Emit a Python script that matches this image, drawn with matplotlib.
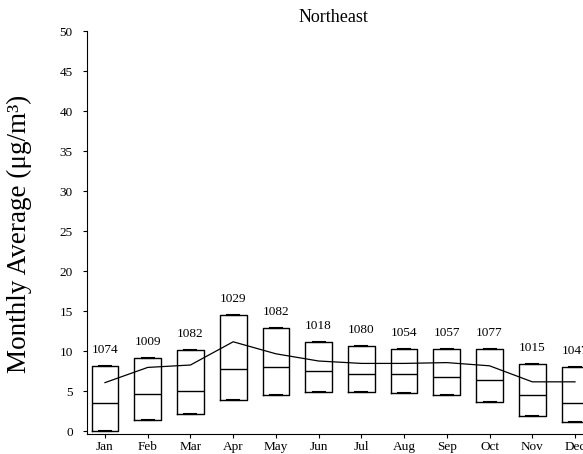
import matplotlib

matplotlib.use("Agg")
import matplotlib.pyplot as plt

plt.rcParams["font.family"] = ["Liberation Serif", "DejaVu Serif"]

# values
months = ["Jan", "Feb", "Mar", "Apr", "May", "Jun", "Jul", "Aug", "Sep", "Oct", "Nov", "Dec"]
q1 = [0.1, 1.45, 2.15, 3.95, 4.55, 4.95, 4.95, 4.85, 4.55, 3.65, 1.95, 1.15]
medians = [3.5, 4.65, 5.0, 7.8, 8.0, 7.55, 7.2, 7.15, 6.85, 6.4, 4.5, 3.5]
q3 = [8.2, 9.2, 10.2, 14.6, 12.9, 11.2, 10.7, 10.35, 10.35, 10.3, 8.4, 8.0]
means = [6.1, 8.0, 8.3, 11.2, 9.7, 8.8, 8.5, 8.5, 8.6, 8.2, 6.2, 6.2]
counts = [1074, 1009, 1082, 1029, 1082, 1018, 1080, 1054, 1057, 1077, 1015, 1047]

positions = list(range(len(months)))

fig = plt.figure(figsize=(5.83, 4.54), dpi=100)
# axes runs past the right edge, like the cropped original
ax = fig.add_axes([0.1487, 0.0434, 0.8816, 0.8883])

stats = [
    {"whislo": lo, "q1": lo, "med": md, "q3": hi, "whishi": hi, "fliers": []}
    for lo, md, hi in zip(q1, medians, q3)
]
ax.bxp(
    stats,
    positions=positions,
    widths=0.625,
    capwidths=0.28,
    showfliers=False,
    boxprops={"color": "black", "linewidth": 1.0},
    medianprops={"color": "black", "linewidth": 1.0},
    whiskerprops={"color": "black", "linewidth": 1.0},
    capprops={"color": "black", "linewidth": 1.5},
    manage_ticks=False,
)

ax.plot(positions, means, color="black", linewidth=0.9)

for x, top, n in zip(positions, q3, counts):
    ax.annotate(
        str(n),
        xy=(x, top),
        xytext=(0, 11.5),
        textcoords="offset points",
        ha="center",
        va="center",
        fontsize=9.5,
    )

ax.set_xlim(-0.428, 11.6)
ax.set_ylim(-0.35, 50)
ax.set_yticks(range(0, 51, 5))
ax.set_xticks(positions)
ax.set_xticklabels(months)

for side in ("top", "right"):
    ax.spines[side].set_visible(False)
for side in ("left", "bottom"):
    ax.spines[side].set_linewidth(0.8)

ax.tick_params(axis="y", direction="out", length=3, width=0.8, pad=7, labelsize=9.5)
ax.tick_params(axis="x", direction="out", length=3, width=0.8, pad=2, labelsize=9.5)

ax.set_ylabel("Monthly Average (μg/m³)", fontsize=19.5)
ax.yaxis.set_label_coords(-0.1064, 0.497)

fig.text(333 / 583, 1 - 17 / 454, "Northeast", ha="center", va="center", fontsize=13)

fig.savefig("out.png", dpi=100)
